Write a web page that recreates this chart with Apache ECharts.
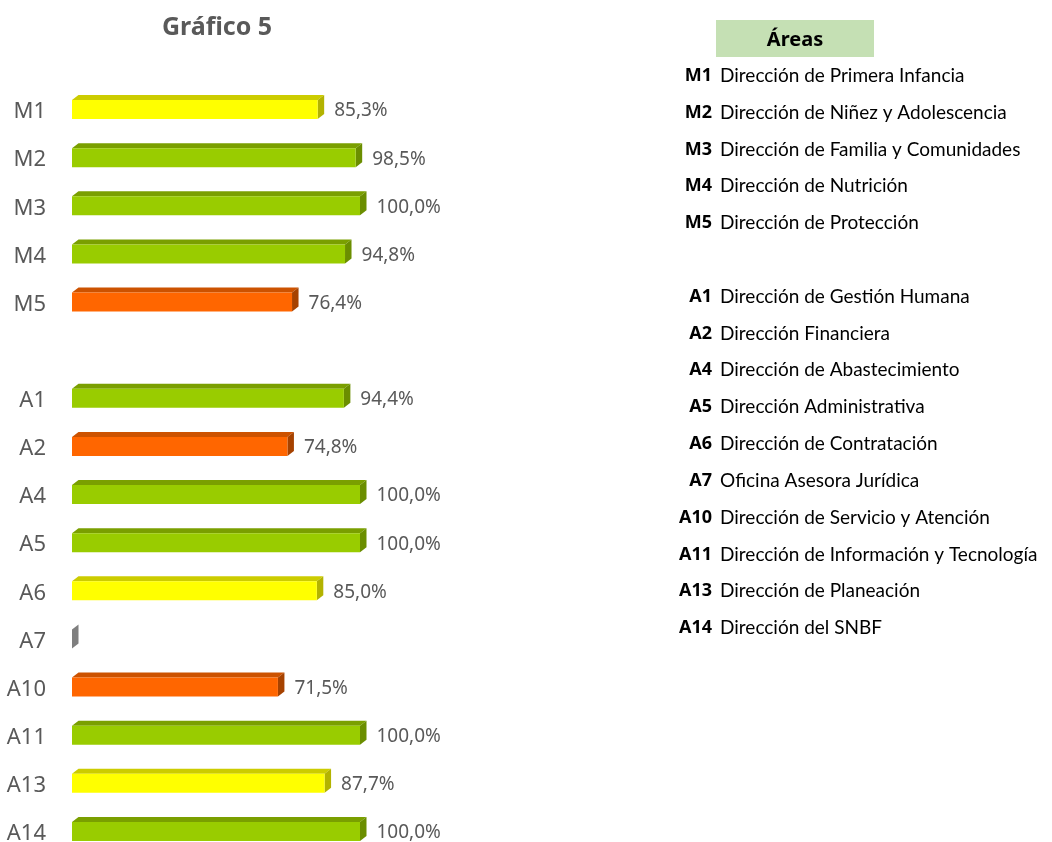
<!DOCTYPE html>
<html>
<head>
<meta charset="utf-8">
<script src="https://cdn.jsdelivr.net/npm/echarts@6/dist/echarts.min.js"></script>
<style>
html,body{margin:0;padding:0;background:#fff;}
#chart{width:1052px;height:842px;}
</style>
</head>
<body>
<div id="chart"></div>
<script>
const categories = ['M1','M2','M3','M4','M5','','A1','A2','A4','A5','A6','A7','A10','A11','A13','A14'];
const values = [85.3, 98.5, 100.0, 94.8, 76.4, null, 94.4, 74.8, 100.0, 100.0, 85.0, 0, 71.5, 100.0, 87.7, 100.0];
const legendCodes = ['M1','M2','M3','M4','M5','A1','A2','A4','A5','A6','A7','A10','A11','A13','A14'];
const legendNames = [
  'Dirección de Primera Infancia',
  'Dirección de Niñez y Adolescencia',
  'Dirección de Familia y Comunidades',
  'Dirección de Nutrición',
  'Dirección de Protección',
  'Dirección de Gestión Humana',
  'Dirección Financiera',
  'Dirección de Abastecimiento',
  'Dirección Administrativa',
  'Dirección de Contratación',
  'Oficina Asesora Jurídica',
  'Dirección de Servicio y Atención',
  'Dirección de Información y Tecnología',
  'Dirección de Planeación',
  'Dirección del SNBF'
];
const titleText = 'Gráfico 5';
const legendTitle = 'Áreas';

const FONT = '"Noto Sans", sans-serif';
const LFONT = 'Lato, "Noto Sans", sans-serif';

function palette(v){
  if (v === 0) return {front:'#8c8c8c', top:'#a6a6a6', side:'#7f7f7f'};
  if (v >= 90) return {front:'#99CC00', top:'#7A9F00', side:'#6B8E00'};
  if (v >= 80) return {front:'#FFFF00', top:'#CCCC00', side:'#B3B300'};
  return {front:'#FF6600', top:'#CC5200', side:'#A64200'};
}

function renderItem(params, api){
  const v = api.value(0);
  if (v == null || isNaN(v)) return;
  const idx = api.value(1);
  const p0 = api.coord([0, idx]);
  const p1 = api.coord([v, idx]);
  const c = p0[1];
  const x0 = p0[0], x1 = p1[0];
  const top = c - 12, bot = c + 7;
  const dx = 6.5, dy = 5;
  const col = palette(v);
  const children = [
    {type:'polygon', shape:{points:[[x0,top],[x0+dx,top-dy],[x1+dx,top-dy],[x1,top]]}, style:{fill:col.top}},
    {type:'polygon', shape:{points:[[x1,top],[x1+dx,top-dy],[x1+dx,bot-dy],[x1,bot]]}, style:{fill:col.side}},
    {type:'rect', shape:{x:x0, y:top, width:x1-x0, height:bot-top}, style:{fill:col.front}}
  ];
  if (v > 0) {
    children.push({type:'text', x:x1+dx+10, y:c-1, style:{
      text: v.toFixed(1).replace('.', ',') + '%',
      fill:'#595959', font:'19px ' + FONT, verticalAlign:'middle', align:'left'
    }});
  }
  return {type:'group', children};
}

const data = [];
values.forEach((v,i)=>{ if (v != null) data.push([v, i]); });

const graphics = [];
graphics.push({type:'text', x:217, y:28, style:{text:titleText, fill:'#595959', font:'bold 25px ' + FONT, align:'center', verticalAlign:'middle'}});
graphics.push({type:'rect', shape:{x:716, y:20, width:158, height:37}, style:{fill:'#C5E0B4'}});
graphics.push({type:'text', x:795, y:40, style:{text:legendTitle, fill:'#000', font:'bold 20px ' + FONT, align:'center', verticalAlign:'middle'}});
const legendY = [76,113,150,186,223,297,334,370,407,444,481,518,555,591,628];
legendCodes.forEach((code,i)=>{
  graphics.push({type:'text', x:712, y:legendY[i], style:{text:code, fill:'#000', font:'bold 18px ' + FONT, align:'right', verticalAlign:'middle'}});
  graphics.push({type:'text', x:720, y:legendY[i], style:{text:legendNames[i], fill:'#000', font:'19px ' + LFONT, align:'left', verticalAlign:'middle'}});
});

const chart = echarts.init(document.getElementById('chart'));
chart.setOption({
  animation:false,
  backgroundColor:'#fff',
  grid:{left:72, top:88, width:288, height:770, outerBoundsMode:'none', containLabel:false},
  xAxis:{type:'value', min:0, max:100, show:false},
  yAxis:{type:'category', data:categories, inverse:true,
    axisLine:{show:false}, axisTick:{show:false}, splitLine:{show:false},
    axisLabel:{color:'#595959', fontSize:22, fontFamily:FONT, margin:26}},
  series:[{type:'custom', renderItem, data, encode:{x:0, y:1}, clip:false}],
  graphic:graphics
});
</script>
</body>
</html>
